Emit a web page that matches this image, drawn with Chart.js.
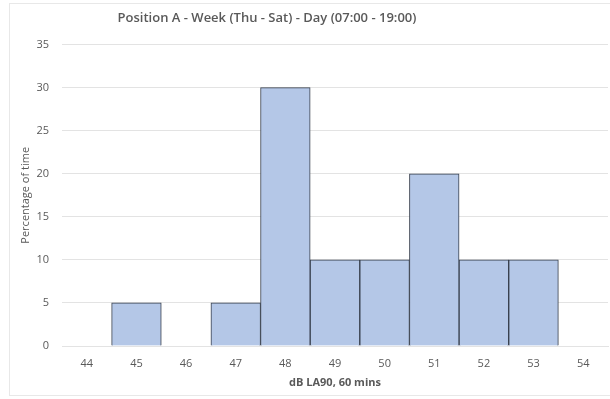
<!DOCTYPE html>
<html>
<head>
<meta charset="utf-8">
<script src="https://cdn.jsdelivr.net/npm/chart.js@4/dist/chart.umd.min.js"></script>
<style>
  html, body { margin: 0; padding: 0; background: #fff; overflow: hidden; }
  #wrap { position: relative; width: 610px; height: 399px; }
  #frame { position: absolute; left: 9px; top: 3px; width: 620px; height: 393px; border: 1px solid #e8e8e8; box-sizing: border-box; }
  #chart { position: absolute; left: 0; top: 0; }
</style>
</head>
<body>
<div id="wrap">
  <div id="frame"></div>
  <canvas id="chart" width="610" height="399"></canvas>
</div>
<script>
  // histogram bins (dB LA90) and percentage of time
  const levels = ["44", "45", "46", "47", "48", "49", "50", "51", "52", "53", "54"];
  const percentages = [0, 5, 0, 5, 30, 10, 10, 20, 10, 10, 0];
  const yTicks = [0, 5, 10, 15, 20, 25, 30, 35];

  const textColor = "#595959";
  const gridColor = "#e3e3e3";
  const fontFamily = "'Open Sans', 'Noto Sans', sans-serif";

  // the title sits left of centre in the original, nudge the title box
  const titleShift = {
    id: "titleShift",
    afterLayout(chart) {
      const t = chart.titleBlock;
      if (t) {
        t.left -= 37;
        t.right -= 37;
      }
    }
  };

  // render histogram
  const ctx = document.getElementById("chart");
  const histChart = new Chart(ctx, {
    type: "bar",
    data: {
      labels: levels,
      datasets: [
        {
          label: "Percentage of time",
          data: percentages,
          backgroundColor: "#b4c7e7",
          borderColor: "#363e4b",
          borderWidth: 1,
          categoryPercentage: 1,
          barPercentage: 1
        }
      ]
    },
    plugins: [titleShift],
    options: {
      responsive: false,
      animation: false,
      layout: { padding: { left: 0, right: 2, top: 0, bottom: 0 } },
      plugins: {
        legend: { display: false },
        tooltip: { enabled: false },
        title: {
          display: true,
          text: "Position A - Week (Thu - Sat) - Day (07:00 - 19:00)",
          color: textColor,
          font: { family: fontFamily, size: 13, weight: "600" },
          padding: { top: 10, bottom: 19 }
        }
      },
      scales: {
        x: {
          grid: { display: false, drawTicks: false },
          border: { display: true, color: gridColor },
          ticks: { color: textColor, font: { family: fontFamily, size: 11 }, padding: 11, maxRotation: 0 },
          title: {
            display: true,
            text: "dB LA90, 60 mins",
            color: textColor,
            font: { family: fontFamily, size: 11, weight: "bold" },
            padding: { top: 0, bottom: 10 }
          },
          afterFit: scale => { scale.height = 53; }
        },
        y: {
          min: 0,
          max: 35,
          afterBuildTicks: scale => { scale.ticks = yTicks.map(v => ({ value: v })); },
          grid: { color: gridColor, drawTicks: false },
          border: { display: false },
          ticks: { color: textColor, font: { family: fontFamily, size: 11 }, padding: 13 },
          title: {
            display: true,
            text: "Percentage of time",
            color: textColor,
            font: { family: fontFamily, size: 11, weight: "normal" },
            padding: { top: 19, bottom: 0 }
          },
          afterFit: scale => { scale.width = 62; }
        }
      }
    }
  });
</script>
</body>
</html>
